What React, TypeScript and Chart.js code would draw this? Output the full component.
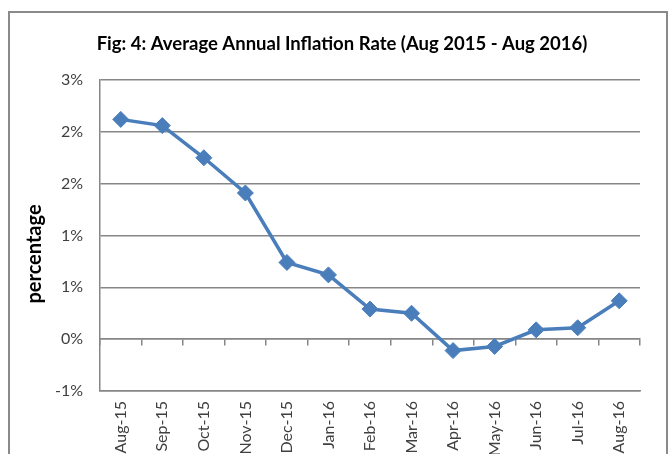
import React, { useEffect, useRef } from 'react';
import { Chart, registerables } from 'chart.js';

Chart.register(...registerables);

const months = ['Aug-15', 'Sep-15', 'Oct-15', 'Nov-15', 'Dec-15', 'Jan-16', 'Feb-16', 'Mar-16', 'Apr-16', 'May-16', 'Jun-16', 'Jul-16', 'Aug-16'];
const inflation = [2.12, 2.06, 1.75, 1.41, 0.74, 0.62, 0.29, 0.25, -0.11, -0.07, 0.09, 0.11, 0.37];
const yTickValues = [-0.5, 0, 0.5, 1, 1.5, 2, 2.5];
const yTickLabels = ['-1%', '0%', '1%', '1%', '2%', '2%', '3%'];
const titleText = 'Fig: 4: Average Annual Inflation Rate (Aug 2015 - Aug 2016)';
const yAxisTitle = 'percentage';

const FONT = 'Lato, "Open Sans", sans-serif';
const CANVAS_W = 656;
const CANVAS_H = 470;

const textPlugin = {
  id: 'textPlugin',
  afterDraw(chart: any) {
    const { ctx, chartArea } = chart;
    ctx.save();
    ctx.font = `bold 18.5px ${FONT}`;
    ctx.fillStyle = '#000000';
    ctx.textAlign = 'center';
    ctx.textBaseline = 'middle';
    ctx.fillText(titleText, chartArea.left + 242, chartArea.top - 36);
    ctx.restore();

    ctx.save();
    ctx.translate(chartArea.left - 65, chartArea.top + 174);
    ctx.rotate(-Math.PI / 2);
    ctx.font = `bold 20px ${FONT}`;
    ctx.fillStyle = '#000000';
    ctx.textAlign = 'center';
    ctx.textBaseline = 'middle';
    ctx.fillText(yAxisTitle, 0, 0);
    ctx.restore();
  },
};

export default function App() {
  const ref = useRef<HTMLCanvasElement | null>(null);

  useEffect(() => {
    if (!ref.current) return;
    const chart = new Chart(ref.current, {
      type: 'line',
      data: {
        labels: months,
        datasets: [
          {
            label: 'Inflation',
            data: inflation,
            borderColor: '#4a7ebb',
            backgroundColor: '#4a7ebb',
            borderWidth: 3.5,
            pointStyle: 'rectRot',
            pointRadius: 8,
            pointBorderWidth: 1,
            pointBackgroundColor: '#4a7ebb',
            pointBorderColor: '#4a7ebb',
            tension: 0,
          },
        ],
      },
      options: {
        responsive: false,
        animation: false,
        devicePixelRatio: 1,
        layout: { padding: { left: 0, top: 67, right: 26, bottom: 0 } },
        plugins: {
          legend: { display: false },
          tooltip: { enabled: false },
          title: { display: false },
        },
        scales: {
          x: {
            type: 'category',
            position: 'bottom',
            offset: true,
            grid: { display: false, drawTicks: false },
            border: { display: true, color: '#868686', width: 1.5 },
            ticks: {
              color: '#404040',
              font: { family: FONT, size: 16 },
              minRotation: 90,
              maxRotation: 90,
              padding: 10,
              autoSkip: false,
            },
            afterFit: (scale: any) => {
              scale.height = 92;
            },
          },
          x2: {
            type: 'category',
            position: { y: 0 } as any,
            offset: true,
            grid: {
              display: true,
              offset: true,
              drawOnChartArea: false,
              drawTicks: true,
              tickLength: 6,
              color: '#868686',
              lineWidth: 1.5,
            },
            border: { display: true, color: '#868686', width: 1.5 },
            ticks: { display: false },
          },
          y: {
            type: 'linear',
            min: -0.5,
            max: 2.5,
            ticks: {
              stepSize: 0.5,
              color: '#404040',
              font: { family: FONT, size: 16 },
              padding: 17,
              callback: (v: any) => {
                const i = yTickValues.findIndex((t) => Math.abs(t - Number(v)) < 1e-6);
                return i >= 0 ? yTickLabels[i] : '';
              },
            },
            grid: { color: '#868686', lineWidth: 1.5, drawTicks: false },
            border: { display: true, color: '#868686', width: 1.5 },
            afterFit: (scale: any) => {
              scale.width = 90;
            },
          },
        },
      },
      plugins: [textPlugin],
    });
    return () => chart.destroy();
  }, []);

  return (
    <div
      style={{
        position: 'fixed',
        left: 8,
        top: 11,
        width: CANVAS_W,
        height: CANVAS_H,
        border: '2px solid #8a8a8a',
        background: '#ffffff',
        overflow: 'hidden',
      }}
    >
      <canvas ref={ref} width={CANVAS_W} height={CANVAS_H} style={{ display: 'block' }} />
    </div>
  );
}
